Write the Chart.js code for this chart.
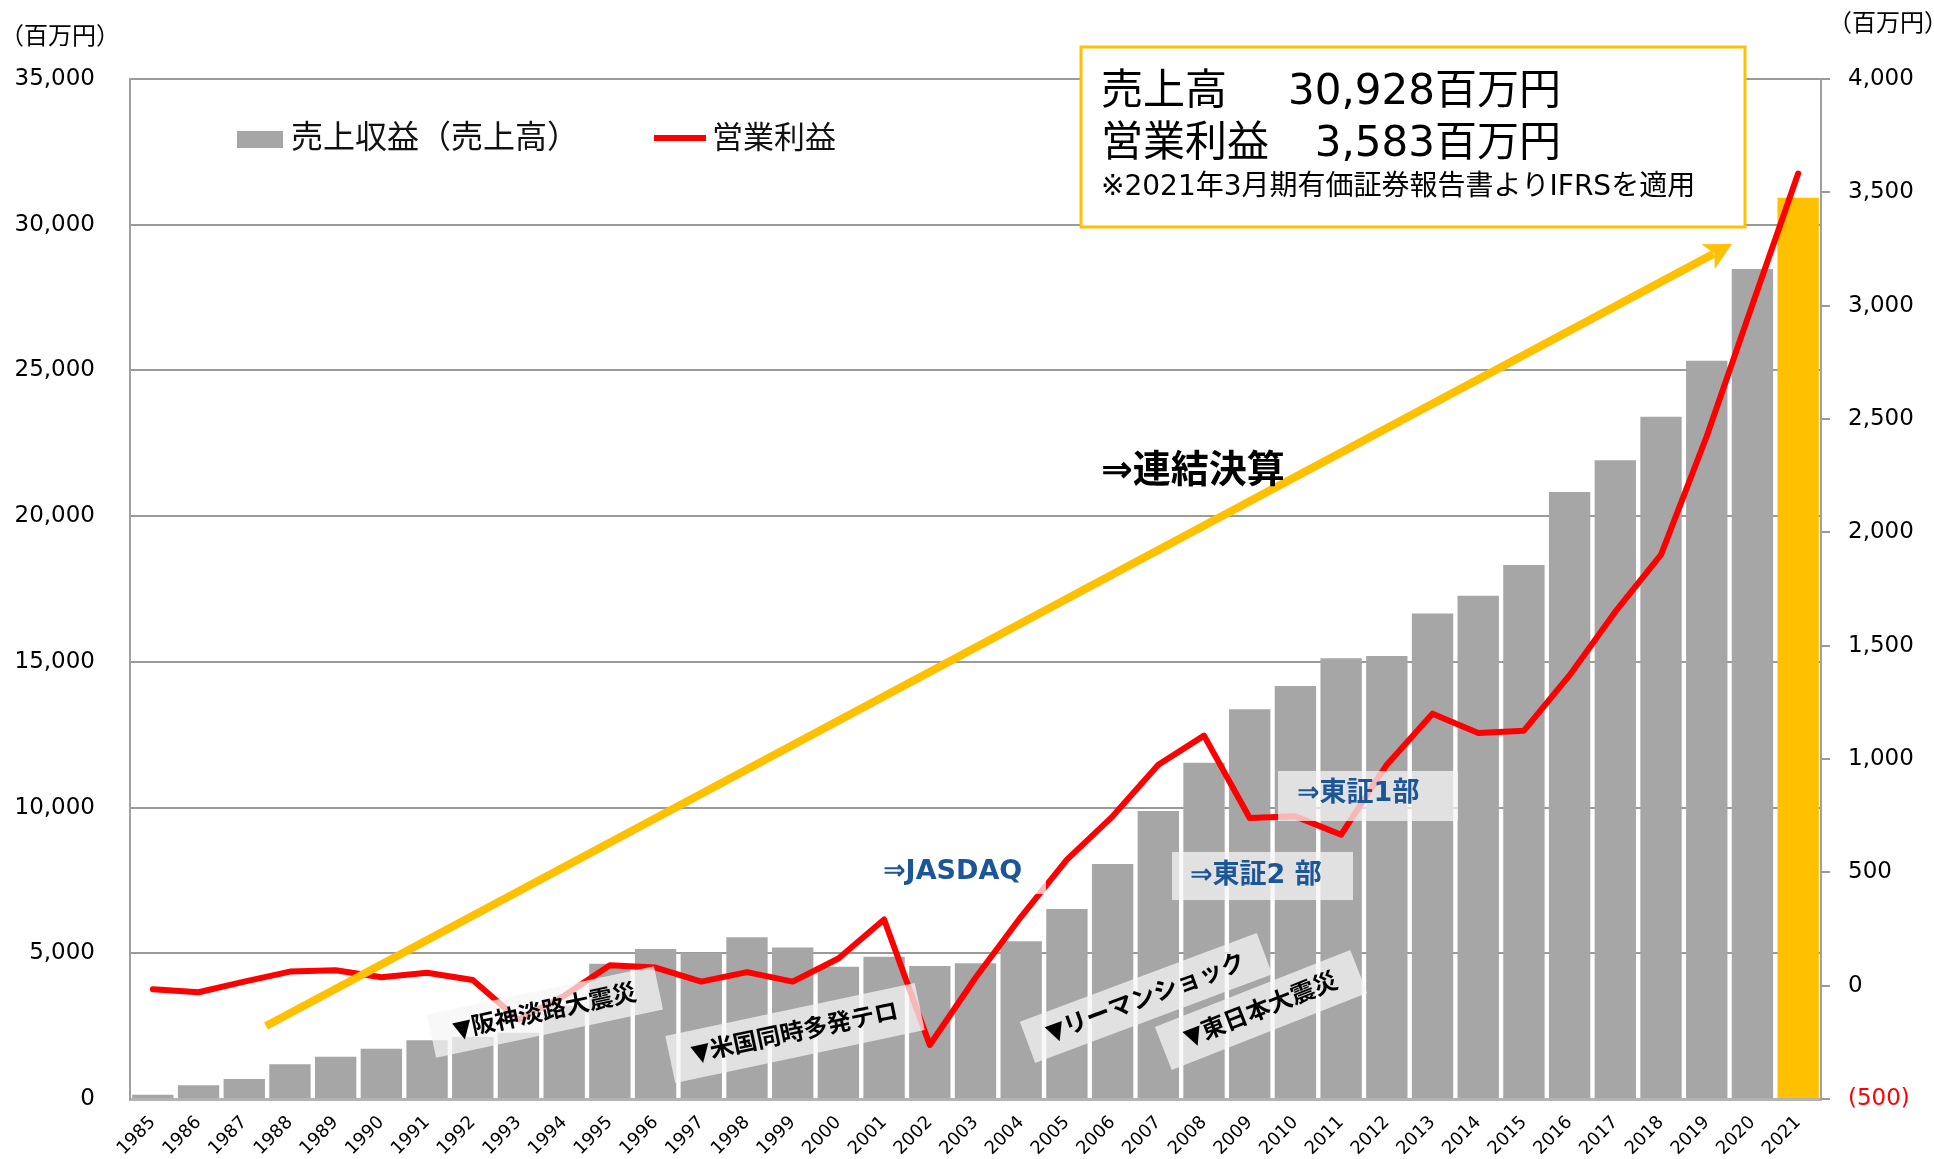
<!DOCTYPE html>
<html>
<head>
<meta charset="utf-8">
<script src="https://cdn.jsdelivr.net/npm/chart.js@4.4.0/dist/chart.umd.min.js"></script>
<style>
html,body{margin:0;padding:0;background:#fff;}
#wrap{width:1934px;height:1159px;position:relative;}
</style>
</head>
<body>
<div id="wrap"><canvas id="c" width="1934" height="1159"></canvas></div>
<script>
// ---- data (百万円) ----
const years = ['1985','1986','1987','1988','1989','1990','1991','1992','1993','1994','1995','1996','1997','1998','1999','2000','2001','2002','2003','2004','2005','2006','2007','2008','2009','2010','2011','2012','2013','2014','2015','2016','2017','2018','2019','2020','2021'];
const revenue = [150,470,690,1190,1450,1720,2020,2130,2270,3200,4640,5150,5015,5550,5200,4540,4880,4560,4660,5410,6520,8060,9880,11540,13370,14170,15120,15200,16660,17270,18320,20830,21920,23410,25330,28480,30928];
const operatingProfit = [-16,-29,18,62,68,37,57,25,-150,-45,90,80,18,60,18,120,292,-262,35,305,556,747,975,1103,740,747,666,975,1200,1115,1125,1370,1650,1902,2424,3005,3583];
const leftTickValues = [0,5000,10000,15000,20000,25000,30000,35000];
const rightTickValues = [-500,0,500,1000,1500,2000,2500,3000,3500,4000];
const highlightYear = '2021';

const seriesNames = ['売上収益（売上高）', '営業利益'];
const unitLabel = '（百万円）';
const summaryLines = [['売上高', '30,928百万円'], ['営業利益', '3,583百万円']];
const summaryNote = '※2021年3月期有価証券報告書よりIFRSを適用';

const FONT = '"DejaVu Sans", "Noto Sans CJK JP", sans-serif';
const GRAY = '#A6A6A6';
const GOLD = '#FFC000';
const BLUE = '#1B5698';

function fmt(v){ return Math.abs(v).toLocaleString('en-US'); }

const overlay = {
  id: 'overlay',
  afterDatasetsDraw(chart) {
    const ctx = chart.ctx;
    ctx.save();

    // yellow trend arrow
    const sx = 266, sy = 1026, ex = 1732, ey = 244;
    const len = Math.hypot(ex - sx, ey - sy);
    const ux = (ex - sx) / len, uy = (ey - sy) / len;
    const px = -uy, py = ux;
    const headLen = 27, headHalf = 14;
    ctx.strokeStyle = GOLD; ctx.fillStyle = GOLD;
    ctx.lineWidth = 8; ctx.lineCap = 'butt';
    ctx.beginPath();
    ctx.moveTo(sx, sy);
    ctx.lineTo(ex - ux * (headLen - 6), ey - uy * (headLen - 6));
    ctx.stroke();
    ctx.beginPath();
    ctx.moveTo(ex, ey);
    ctx.lineTo(ex - ux * headLen + px * headHalf, ey - uy * headLen + py * headHalf);
    ctx.lineTo(ex - ux * (headLen - 7), ey - uy * (headLen - 7));
    ctx.lineTo(ex - ux * headLen - px * headHalf, ey - uy * headLen - py * headHalf);
    ctx.closePath();
    ctx.fill();

    // translucent boxes
    const boxFill = 'rgba(245,245,245,0.74)';
    function rotLabel(cx, cy, deg, w, h, text) {
      ctx.save();
      ctx.translate(cx, cy);
      ctx.rotate(-deg * Math.PI / 180);
      ctx.fillStyle = boxFill;
      ctx.fillRect(-w / 2, -h / 2, w, h);
      ctx.fillStyle = '#000';
      ctx.font = 'bold 24px ' + FONT;
      ctx.textAlign = 'center';
      ctx.textBaseline = 'middle';
      ctx.fillText(text, 0, 1);
      ctx.restore();
    }
    rotLabel(545, 1012, 12, 232, 44, '▼阪神淡路大震災');
    rotLabel(795, 1033, 12, 255, 48, '▼米国同時多発テロ');
    rotLabel(1146, 998, 20.5, 253, 44, '▼リーマンショック');
    rotLabel(1261, 1010, 21.5, 210, 46, '▼東日本大震災');

    // listing boxes
    ctx.fillStyle = 'rgba(255,255,255,0.72)';
    ctx.fillRect(868, 848, 178, 46);
    ctx.fillStyle = boxFill;
    ctx.fillRect(1172, 852, 181, 48);
    ctx.fillRect(1278, 771, 180, 50);

    ctx.textAlign = 'left'; ctx.textBaseline = 'middle';
    ctx.fillStyle = BLUE;
    ctx.font = 'bold 27px ' + FONT;
    ctx.fillText('⇒JASDAQ', 883, 872);
    ctx.font = 'bold 27px ' + FONT;
    ctx.fillText('⇒東証2 部', 1190, 876);
    ctx.fillText('⇒東証1部', 1297, 794);

    ctx.fillStyle = '#000';
    ctx.font = 'bold 38px ' + FONT;
    ctx.fillText('⇒連結決算', 1101, 472);

    // summary box
    ctx.fillStyle = '#fff';
    ctx.fillRect(1081, 47, 664, 180);
    ctx.strokeStyle = GOLD; ctx.lineWidth = 3;
    ctx.strokeRect(1081, 47, 664, 180);
    ctx.fillStyle = '#000';
    ctx.font = '42px ' + FONT;
    const ys = [93, 145];
    summaryLines.forEach((ln, i) => {
      ctx.textAlign = 'left';
      ctx.fillText(ln[0], 1101, ys[i]);
      ctx.textAlign = 'right';
      ctx.fillText(ln[1], 1561, ys[i]);
    });
    ctx.textAlign = 'left';
    ctx.font = '28px ' + FONT;
    ctx.fillText(summaryNote, 1101, 188);

    // legend
    ctx.fillStyle = GRAY;
    ctx.fillRect(237, 131, 46, 17);
    ctx.fillStyle = '#111';
    ctx.font = '32px ' + FONT;
    ctx.fillText(seriesNames[0], 291, 140);
    ctx.strokeStyle = '#FF0000'; ctx.lineWidth = 6; ctx.lineCap = 'butt';
    ctx.beginPath(); ctx.moveTo(654, 138); ctx.lineTo(706, 138); ctx.stroke();
    ctx.font = '31px ' + FONT;
    ctx.fillText(seriesNames[1], 712, 140);

    // units
    ctx.font = '24px ' + FONT;
    ctx.fillStyle = '#000';
    ctx.fillText(unitLabel, 0, 38);
    ctx.fillText(unitLabel, 1828, 25);

    ctx.restore();
  }
};

new Chart(document.getElementById('c'), {
  data: {
    labels: years,
    datasets: [
      {
        type: 'line',
        label: seriesNames[1],
        data: operatingProfit,
        yAxisID: 'y1',
        borderColor: '#FF0000',
        borderWidth: 6,
        pointRadius: 0,
        tension: 0,
        borderJoinStyle: 'round',
        borderCapStyle: 'round',
        order: 0
      },
      {
        type: 'bar',
        label: seriesNames[0],
        data: revenue,
        yAxisID: 'y',
        backgroundColor: years.map(y => y === highlightYear ? GOLD : GRAY),
        barPercentage: 0.905,
        categoryPercentage: 1.0,
        order: 1
      }
    ]
  },
  options: {
    responsive: false,
    animation: false,
    layout: { padding: { top: 79, left: 0, right: 0, bottom: 0 } },
    plugins: { legend: { display: false }, tooltip: { enabled: false } },
    scales: {
      x: {
        offset: true,
        grid: { display: false, drawTicks: false },
        border: { display: true, color: '#B3B3B3', width: 3 },
        ticks: {
          autoSkip: false, minRotation: 45, maxRotation: 45, padding: 13,
          color: '#000', font: { family: '"DejaVu Sans"', size: 18 }
        },
        afterFit(s) { s.height = 60; }
      },
      y: {
        position: 'left',
        min: 0, max: 35000,
        afterBuildTicks(s) { s.ticks = leftTickValues.map(v => ({ value: v })); },
        grid: {
          color: c => (c.tick && c.tick.value === 0) ? 'rgba(0,0,0,0)' : '#9A9A9A',
          lineWidth: 2, drawTicks: false
        },
        border: { display: true, color: '#A0A0A0', width: 2 },
        ticks: {
          padding: 35, color: '#000',
          font: { family: '"DejaVu Sans"', size: 23 },
          callback: v => fmt(v)
        },
        afterFit(s) { s.width = 130; }
      },
      y1: {
        position: 'right',
        min: -500, max: 4000,
        afterBuildTicks(s) { s.ticks = rightTickValues.map(v => ({ value: v })); },
        grid: { drawOnChartArea: false, drawTicks: true, tickLength: 9, color: '#9A9A9A', lineWidth: 2 },
        border: { display: true, color: '#A0A0A0', width: 2 },
        ticks: {
          padding: 18,
          color: c => (c.tick && c.tick.value < 0) ? '#FF0000' : '#000',
          font: { family: '"DejaVu Sans"', size: 23 },
          callback: v => v < 0 ? '(' + fmt(v) + ')' : fmt(v)
        },
        afterFit(s) { s.width = 113; }
      }
    }
  },
  plugins: [overlay]
});
</script>
</body>
</html>
